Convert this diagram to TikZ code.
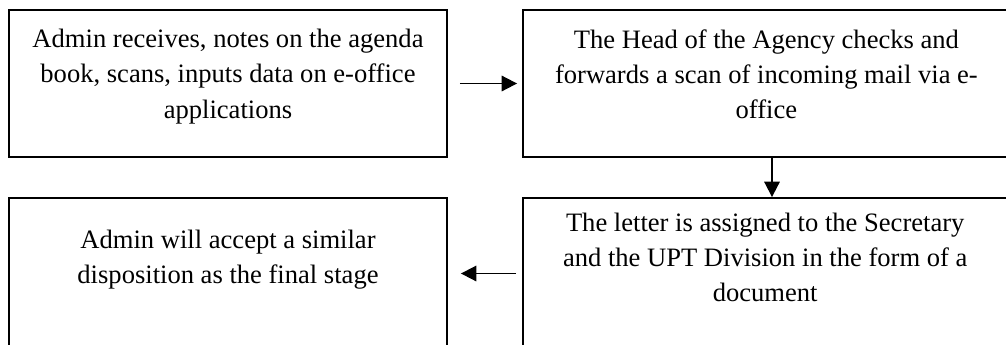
\documentclass[tikz,border=0pt]{standalone}
\usepackage{fontspec}
\setmainfont{Liberation Serif}
\usetikzlibrary{arrows.meta,positioning}

\begin{document}
\begin{tikzpicture}

        \useasboundingbox (0,0) rectangle (25.15,-8.6);
        \clip (0,0) rectangle (25.15,-8.6);

        \begin{scope}[every node/.style={rectangle,draw,line width=1.3pt,inner sep=0pt}]
          \node[minimum width=10.95cm,minimum height=3.675cm] (admin)  at (5.7,-2.0875)  {};
          \node[minimum width=12.45cm,minimum height=3.675cm] (head)   at (19.3,-2.0875) {};
          \node[minimum width=12.45cm,minimum height=3.775cm] (letter) at (19.3,-6.8375) {};
          \node[minimum width=10.95cm,minimum height=3.775cm] (final)  at (5.7,-6.8375)  {};
        \end{scope}

        \begin{scope}[every node/.style={align=center,inner sep=0pt,font=\fontsize{18.9pt}{25pt}\selectfont}]
          \node[below=.5cm of admin.north]                 (admintext)  {Admin receives, notes on the agenda\\book, scans, inputs data on e-office\\applications};
          \node[below=.5cm of head.north,xshift=-.14cm]    (headtext)   {The Head of the Agency checks and\\forwards a scan of incoming mail via e-\\office};
          \node[below=.38cm of letter.north,xshift=-.17cm] (lettertext) {The letter is assigned to the Secretary\\and the UPT Division in the form of a\\document};
          \node[below=.82cm of final.north]                (finaltext)  {Admin will accept a similar\\disposition as the final stage};
        \end{scope}

        \begin{scope}[every edge/.style={draw,line width=1.3pt,-{Triangle[length=11pt,width=11pt]}}]
          \path (admin)  edge[shorten <=.3cm,shorten >=.125cm] (head);
          \path (head)   edge (letter);
          \path (letter) edge[shorten <=.15cm,shorten >=.325cm] (final);
        \end{scope}

      \end{tikzpicture}
\end{document}
